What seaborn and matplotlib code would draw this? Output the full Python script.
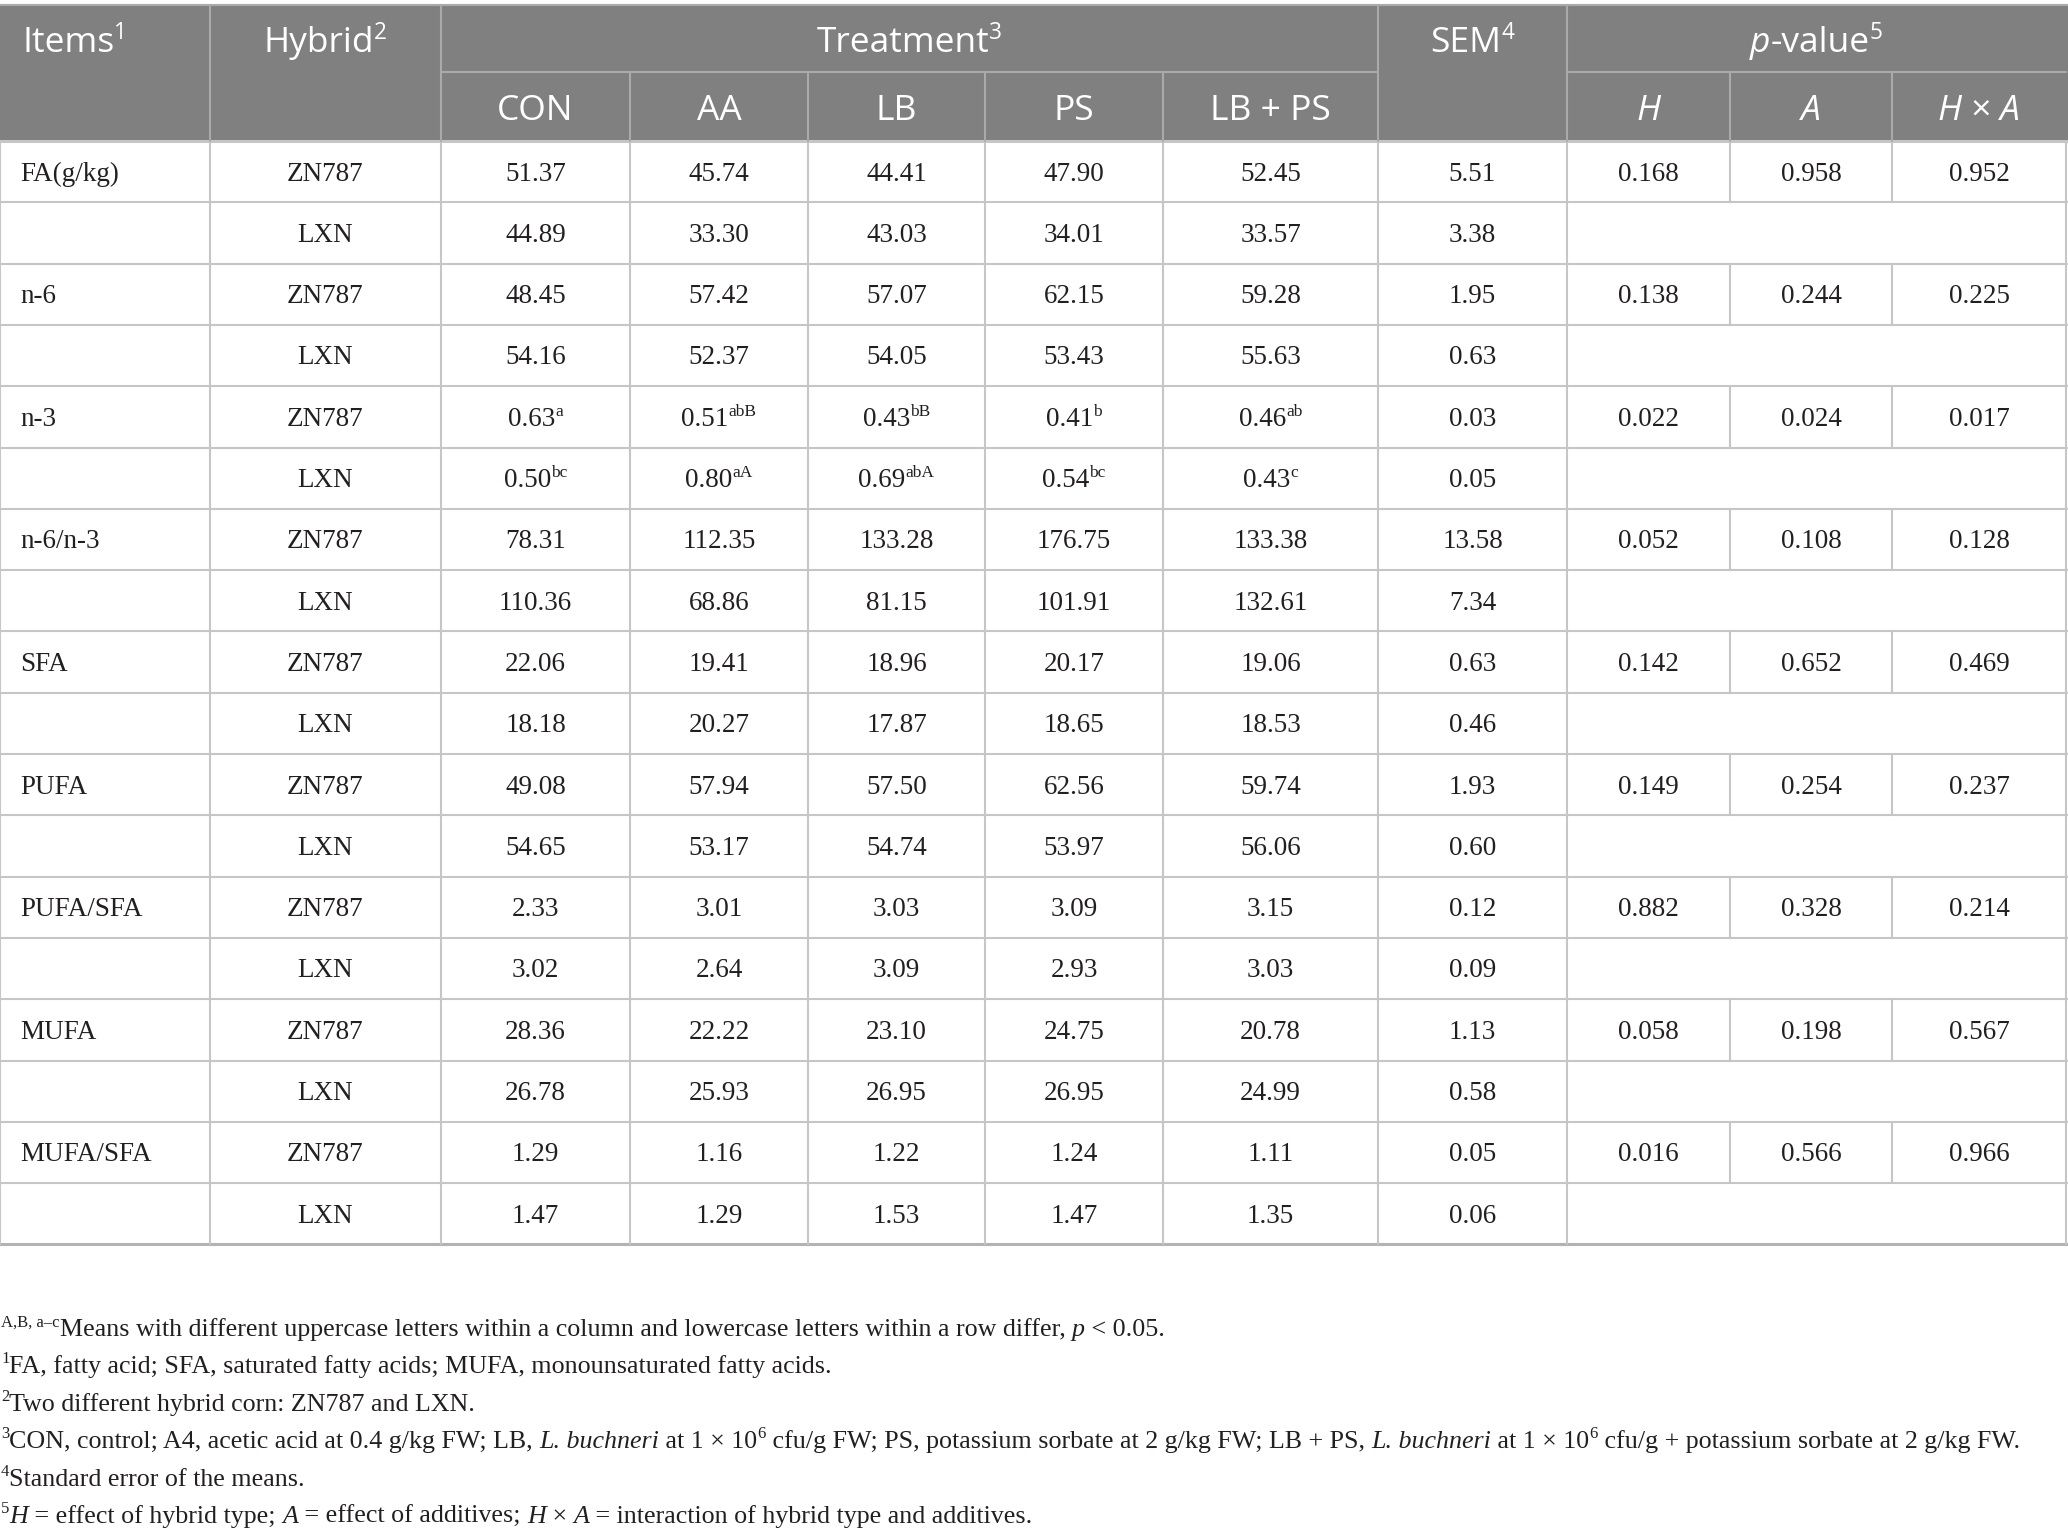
import matplotlib
matplotlib.use("Agg")
import matplotlib.pyplot as plt
import seaborn as sns
import pandas as pd

# ---------------- data ----------------
items = ["FA(g/kg)", "n-6", "n-3", "n-6/n-3", "SFA", "PUFA", "PUFA/SFA", "MUFA", "MUFA/SFA"]
hybrids = ["ZN787", "LXN"]
treatments = ["CON", "AA", "LB", "PS", "LB + PS"]

con = [51.37, 44.89, 48.45, 54.16, 0.63, 0.50, 78.31, 110.36, 22.06, 18.18, 49.08, 54.65, 2.33, 3.02, 28.36, 26.78, 1.29, 1.47]
aa = [45.74, 33.30, 57.42, 52.37, 0.51, 0.80, 112.35, 68.86, 19.41, 20.27, 57.94, 53.17, 3.01, 2.64, 22.22, 25.93, 1.16, 1.29]
lb = [44.41, 43.03, 57.07, 54.05, 0.43, 0.69, 133.28, 81.15, 18.96, 17.87, 57.50, 54.74, 3.03, 3.09, 23.10, 26.95, 1.22, 1.53]
ps = [47.90, 34.01, 62.15, 53.43, 0.41, 0.54, 176.75, 101.91, 20.17, 18.65, 62.56, 53.97, 3.09, 2.93, 24.75, 26.95, 1.24, 1.47]
lbps = [52.45, 33.57, 59.28, 55.63, 0.46, 0.43, 133.38, 132.61, 19.06, 18.53, 59.74, 56.06, 3.15, 3.03, 20.78, 24.99, 1.11, 1.35]
sem = [5.51, 3.38, 1.95, 0.63, 0.03, 0.05, 13.58, 7.34, 0.63, 0.46, 1.93, 0.60, 0.12, 0.09, 1.13, 0.58, 0.05, 0.06]

con_sup = ["", "", "", "", "a", "bc", "", "", "", "", "", "", "", "", "", "", "", ""]
aa_sup = ["", "", "", "", "abB", "aA", "", "", "", "", "", "", "", "", "", "", "", ""]
lb_sup = ["", "", "", "", "bB", "abA", "", "", "", "", "", "", "", "", "", "", "", ""]
ps_sup = ["", "", "", "", "b", "bc", "", "", "", "", "", "", "", "", "", "", "", ""]
lbps_sup = ["", "", "", "", "ab", "c", "", "", "", "", "", "", "", "", "", "", "", ""]

p_h = [0.168, 0.138, 0.022, 0.052, 0.142, 0.149, 0.882, 0.058, 0.016]
p_a = [0.958, 0.244, 0.024, 0.108, 0.652, 0.254, 0.328, 0.198, 0.566]
p_hxa = [0.952, 0.225, 0.017, 0.128, 0.469, 0.237, 0.214, 0.567, 0.966]

# ---------------- style ----------------
sns.set_theme(style="white")
SERIF = ["Liberation Serif", "DejaVu Serif"]
SANS = ["Open Sans", "DejaVu Sans"]
plt.rcParams["font.family"] = SERIF

W, H = 2068, 1535
DPI = 100
fig = plt.figure(figsize=(W / DPI, H / DPI), dpi=DPI)
ax = fig.add_axes([0, 0, 1, 1])
ax.set_xlim(0, W)
ax.set_ylim(H, 0)
ax.axis("off")
renderer = fig.canvas.get_renderer()

HEADER_BG = "#7f807f"
HEADER_LINE = "#a9aaa9"
GRID = "#c6c6c6"
TXT = "#231f20"

col_x = [0, 210, 441, 630, 808, 985, 1163, 1378, 1567, 1730, 1892, 2066]
y_top = 5
y_h1 = 72
y_h2 = 141
row_h = 61.3
n_rows = len(items) * len(hybrids)

BODY_PT = 19.5
HEAD_PT = 25.5
FOOT_PT = 18.7


def text_width(txt, **kw):
    t1 = ax.text(0, 0, "x" + txt + "x", **kw)
    t2 = ax.text(0, 0, "xx", **kw)
    w = t1.get_window_extent(renderer=renderer).width - t2.get_window_extent(renderer=renderer).width
    t1.remove()
    t2.remove()
    return w


def rich(x, y, segs, size, family, color, ha="left"):
    """segs: list of (text, italic, sup). y is baseline."""
    parts = []
    for txt, it, sup in segs:
        fs = size * 0.64 if sup else size
        kw = dict(fontsize=fs, family=family, style="italic" if it else "normal")
        parts.append((txt, kw, sup, text_width(txt, **kw)))
    total = sum(p[3] for p in parts)
    cur = x - total / 2 if ha == "center" else x
    px = size * DPI / 72
    for txt, kw, sup, w in parts:
        dy = -px * 0.36 if sup else 0
        ax.text(cur, y + dy, txt, ha="left", va="baseline", color=color, **kw)
        cur += w


# ---------------- header ----------------
ax.add_patch(plt.Rectangle((0, y_top), W, y_h2 - y_top, color=HEADER_BG, lw=0, zorder=0))
ax.plot([0, W], [y_top, y_top], color=HEADER_LINE, lw=1.5)
ax.plot([col_x[2], col_x[7]], [y_h1, y_h1], color=HEADER_LINE, lw=1.5)
ax.plot([col_x[8], col_x[11]], [y_h1, y_h1], color=HEADER_LINE, lw=1.5)
for i in [1, 2, 7, 8]:
    ax.plot([col_x[i], col_x[i]], [y_top, y_h2], color=HEADER_LINE, lw=1.5)
for i in [3, 4, 5, 6, 9, 10]:
    ax.plot([col_x[i], col_x[i]], [y_h1, y_h2], color=HEADER_LINE, lw=1.5)

hp = HEAD_PT * DPI / 72
b1 = (y_top + y_h1) / 2 + hp * 0.37
b2 = (y_h1 + y_h2) / 2 + hp * 0.37
rich(22, b1, [("Items", 0, 0), ("1", 0, 1)], HEAD_PT, SANS, "white")
rich((col_x[1] + col_x[2]) / 2, b1, [("Hybrid", 0, 0), ("2", 0, 1)], HEAD_PT, SANS, "white", "center")
rich((col_x[2] + col_x[7]) / 2, b1, [("Treatment", 0, 0), ("3", 0, 1)], HEAD_PT, SANS, "white", "center")
rich((col_x[7] + col_x[8]) / 2, b1, [("SEM", 0, 0), ("4", 0, 1)], HEAD_PT, SANS, "white", "center")
rich((col_x[8] + col_x[11]) / 2, b1, [("p", 1, 0), ("-value", 0, 0), ("5", 0, 1)], HEAD_PT, SANS, "white", "center")
for j, tname in enumerate(treatments):
    rich((col_x[2 + j] + col_x[3 + j]) / 2, b2, [(tname, 0, 0)], HEAD_PT, SANS, "white", "center")
rich((col_x[8] + col_x[9]) / 2, b2, [("H", 1, 0)], HEAD_PT, SANS, "white", "center")
rich((col_x[9] + col_x[10]) / 2, b2, [("A", 1, 0)], HEAD_PT, SANS, "white", "center")
rich((col_x[10] + col_x[11]) / 2, b2, [("H", 1, 0), (" × ", 0, 0), ("A", 1, 0)], HEAD_PT, SANS, "white", "center")

# ---------------- body ----------------
df = pd.DataFrame({
    "item": [it for it in items for _ in hybrids],
    "hybrid": hybrids * len(items),
    "CON": con, "AA": aa, "LB": lb, "PS": ps, "LB + PS": lbps,
    "SEM": sem,
})
sups = {"CON": con_sup, "AA": aa_sup, "LB": lb_sup, "PS": ps_sup, "LB + PS": lbps_sup}

bp = BODY_PT * DPI / 72
for r in range(n_rows + 1):
    y = y_h2 + r * row_h
    lw = 2.2 if r in (0, n_rows) else 1.5
    col = "#b3b3b3" if r == n_rows else GRID
    ax.plot([0, W], [y, y], color=col, lw=lw, zorder=1)
for r in range(n_rows):
    y0 = y_h2 + r * row_h
    y1 = y0 + row_h
    xs = [0, 1, 2, 3, 4, 5, 6, 7, 8, 11]
    if r % 2 == 0:
        xs += [9, 10]
    for i in xs:
        ax.plot([col_x[i], col_x[i]], [y0, y1], color=GRID, lw=1.5, zorder=1)

for r, row in df.iterrows():
    base = y_h2 + r * row_h + row_h / 2 + bp * 0.33
    if r % 2 == 0:
        rich(20, base, [(row["item"], 0, 0)], BODY_PT, SERIF, TXT)
    rich((col_x[1] + col_x[2]) / 2, base, [(row["hybrid"], 0, 0)], BODY_PT, SERIF, TXT, "center")
    for j, tname in enumerate(treatments):
        segs = [(f"{row[tname]:.2f}", 0, 0)]
        s = sups[tname][r]
        if s:
            segs.append((s, 0, 1))
        rich((col_x[2 + j] + col_x[3 + j]) / 2, base, segs, BODY_PT, SERIF, TXT, "center")
    rich((col_x[7] + col_x[8]) / 2, base, [(f"{row['SEM']:.2f}", 0, 0)], BODY_PT, SERIF, TXT, "center")
    if r % 2 == 0:
        k = r // 2
        for j, vals in enumerate([p_h, p_a, p_hxa]):
            rich((col_x[8 + j] + col_x[9 + j]) / 2, base, [(f"{vals[k]:.3f}", 0, 0)], BODY_PT, SERIF, TXT, "center")

# ---------------- footnotes ----------------
foot = [
    [("A,B, a–c", 0, 1), ("Means with different uppercase letters within a column and lowercase letters within a row differ, ", 0, 0), ("p", 1, 0), (" < 0.05.", 0, 0)],
    [("1", 0, 1), ("FA, fatty acid; SFA, saturated fatty acids; MUFA, monounsaturated fatty acids.", 0, 0)],
    [("2", 0, 1), ("Two different hybrid corn: ZN787 and LXN.", 0, 0)],
    [("3", 0, 1), ("CON, control; A4, acetic acid at 0.4 g/kg FW; LB, ", 0, 0), ("L. buchneri", 1, 0), (" at 1 × 10", 0, 0), ("6", 0, 1),
     (" cfu/g FW; PS, potassium sorbate at 2 g/kg FW; LB + PS, ", 0, 0), ("L. buchneri", 1, 0), (" at 1 × 10", 0, 0), ("6", 0, 1),
     (" cfu/g + potassium sorbate at 2 g/kg FW.", 0, 0)],
    [("4", 0, 1), ("Standard error of the means.", 0, 0)],
    [("5", 0, 1), ("H", 1, 0), (" = effect of hybrid type; ", 0, 0), ("A", 1, 0), (" = effect of additives; ", 0, 0), ("H", 1, 0),
     (" × ", 0, 0), ("A", 1, 0), (" = interaction of hybrid type and additives.", 0, 0)],
]
foot_y = [1327, 1364, 1402, 1439, 1477, 1514]
fp = FOOT_PT * DPI / 72
for segs, yc in zip(foot, foot_y):
    rich(1, yc + fp * 0.33, segs, FOOT_PT, SERIF, TXT)

fig.savefig("out.png", dpi=DPI, facecolor="white")
